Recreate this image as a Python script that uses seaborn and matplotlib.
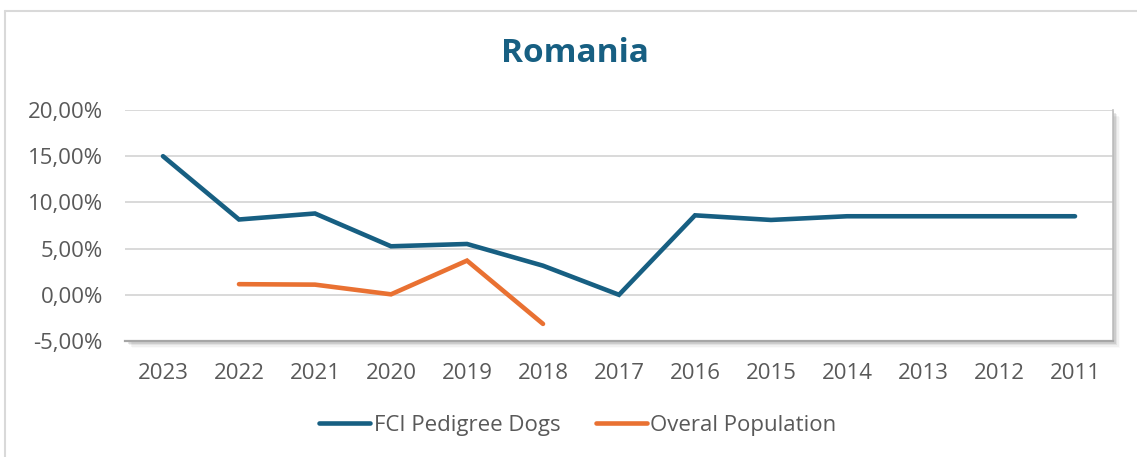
import numpy as np
import pandas as pd
import matplotlib
matplotlib.use("Agg")
import matplotlib.pyplot as plt
from matplotlib.patches import Rectangle
from matplotlib.lines import Line2D
from matplotlib.ticker import FuncFormatter, MultipleLocator
import seaborn as sns

# --- DATOS ---
years = ["2023", "2022", "2021", "2020", "2019", "2018", "2017",
         "2016", "2015", "2014", "2013", "2012", "2011"]
fci_dogs = [15.0, 8.15, 8.8, 5.25, 5.5, 3.15, 0.0, 8.6, 8.1, 8.5, 8.5, 8.5, 8.5]
pop_years = ["2022", "2021", "2020", "2019", "2018"]
overall_pop = [1.15, 1.1, 0.05, 3.7, -3.15]

series_names = ["FCI Pedigree Dogs", "Overal Population"]
title = "Romania"

BLUE = "#175F82"
ORANGE = "#E97132"
TEXT = "#595959"
GRID = "#D9D9D9"

df = pd.concat([
    pd.DataFrame({"year": years, "value": fci_dogs, "serie": series_names[0]}),
    pd.DataFrame({"year": pop_years, "value": overall_pop, "serie": series_names[1]}),
])
pos = {y: i for i, y in enumerate(years)}
df["x"] = df["year"].map(pos)

sns.set_theme(style="white")
plt.rcParams["font.family"] = ["Open Sans", "DejaVu Sans"]

W, H = 1137, 457
fig = plt.figure(figsize=(W / 100, H / 100), dpi=100)
fig.patch.set_facecolor("white")

# marco exterior del grafico
fig.add_artist(Line2D([5 / W, 5 / W], [0, 1 - 11 / H], transform=fig.transFigure,
                      color=GRID, lw=1.5))
fig.add_artist(Line2D([5 / W, 1], [1 - 11 / H, 1 - 11 / H], transform=fig.transFigure,
                      color=GRID, lw=1.5))

left, right, top, bottom = 125, 1113, 110, 341
ax_rect = [left / W, 1 - bottom / H, (right - left) / W, (bottom - top) / H]

# sombra del area de trazado
for i, a in enumerate([0.12, 0.09, 0.06, 0.04, 0.02]):
    off = (i + 1) * 1.4
    fig.patches.append(Rectangle(((left + off) / W, 1 - (bottom + off) / H),
                                 (right - left) / W, (bottom - top) / H,
                                 transform=fig.transFigure, facecolor="black",
                                 alpha=a, edgecolor="none", zorder=0))

ax = fig.add_axes(ax_rect, zorder=1)
ax.set_facecolor("white")

sns.lineplot(data=df, x="x", y="value", hue="serie", palette=[BLUE, ORANGE],
             linewidth=3.3, ax=ax, legend=False, sort=False,
             solid_capstyle="round", solid_joinstyle="miter")

ax.set_xlim(-0.5, len(years) - 0.5)
ax.set_ylim(-5, 20)
ax.yaxis.set_major_locator(MultipleLocator(5))
ax.yaxis.set_major_formatter(FuncFormatter(lambda v, p: f"{v:.2f}%".replace(".", ",")))
ax.set_xticks(range(len(years)))
ax.set_xticklabels(years)
ax.set_xlabel("")
ax.set_ylabel("")
ax.grid(axis="y", color=GRID, linewidth=1.4)
ax.set_axisbelow(True)
for s in ["top", "left"]:
    ax.spines[s].set_visible(False)
ax.spines["bottom"].set_color("#A6A6A6")
ax.spines["bottom"].set_linewidth(1.6)
ax.spines["right"].set_color("#BFBFBF")
ax.spines["right"].set_linewidth(1.2)
ax.tick_params(axis="both", length=0, labelsize=16, labelcolor=TEXT)
ax.tick_params(axis="y", pad=16)
ax.tick_params(axis="x", pad=16)

fig.text(575 / W, 1 - 54 / H, title, ha="center", va="center", fontsize=24,
         fontweight="bold", color=BLUE)

handles = [Line2D([], [], color=BLUE, lw=3.3, solid_capstyle="round"),
           Line2D([], [], color=ORANGE, lw=3.3, solid_capstyle="round")]
fig.legend(handles, series_names, loc="center", bbox_to_anchor=(578 / W, 1 - 425 / H),
           ncol=2, frameon=False, fontsize=16, labelcolor=TEXT, handlelength=2.3,
           handletextpad=0.15, columnspacing=1.6)

fig.savefig("out.png", dpi=100, facecolor="white")
